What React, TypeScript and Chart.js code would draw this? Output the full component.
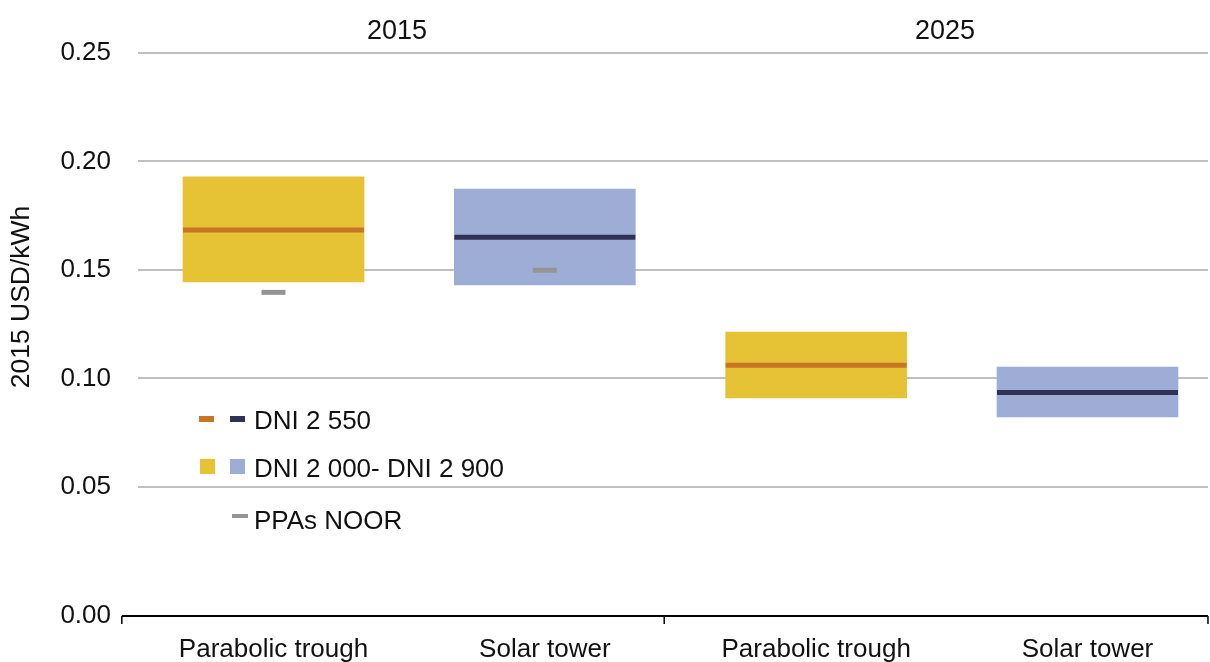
import React, { useEffect, useRef } from "react";
import { Chart, registerables } from "chart.js";

Chart.register(...registerables);

// ---- data ----
const categories = ["Parabolic trough", "Solar tower", "Parabolic trough", "Solar tower"];
const years = ["2015", "2025"];
const troughX = [0, 2];
const towerX = [1, 3];
const troughLow = [0.1445, 0.091];
const troughHigh = [0.1929, 0.1214];
const troughMid = [0.1684, 0.1061];
const towerLow = [0.1431, 0.0823];
const towerHigh = [0.1873, 0.1053];
const towerMid = [0.1651, 0.0936];
const ppaX = [0, 1];
const ppaNoor = [0.1397, 0.1499];
const yTickValues = [0.05, 0.1, 0.15, 0.2, 0.25];
const legendLabels = ["DNI 2 550", "DNI 2 000- DNI 2 900", "PPAs NOOR"];

// ---- styling ----
const W = 1210;
const H = 662;
const YELLOW = "#E6C235";
const BLUE = "#9DADD6";
const ORANGE = "#C87526";
const NAVY = "#2F3256";
const GREY = "#949494";
const GRID = "#BFBFBF";
const FONT = "'Liberation Sans', Arial, sans-serif";
const Y_MIN = -0.00945;
const X_MIN = -0.4994;
const X_MAX = 3.4441;
const groupEdges = [-0.559, 1.44, 3.444];
const yearCenters = [0.455, 2.475];

const overlayPlugin = {
  id: "overlay",
  afterDraw(chart: any) {
    const { ctx } = chart;
    const xs = chart.scales.x;
    const ys = chart.scales.y;
    const y0 = ys.getPixelForValue(Y_MIN);
    ctx.save();
    // bottom axis line
    ctx.strokeStyle = "#000";
    ctx.lineWidth = 2;
    ctx.beginPath();
    const xl = xs.getPixelForValue(groupEdges[0]);
    const xr = xs.getPixelForValue(groupEdges[groupEdges.length - 1]);
    ctx.moveTo(xl, y0);
    ctx.lineTo(xr, y0);
    ctx.stroke();
    ctx.lineWidth = 1.5;
    groupEdges.forEach((g) => {
      const px = xs.getPixelForValue(g);
      ctx.beginPath();
      ctx.moveTo(px, y0);
      ctx.lineTo(px, y0 + 8);
      ctx.stroke();
    });
    // year labels
    ctx.fillStyle = "#111";
    ctx.font = `27px ${FONT}`;
    ctx.textAlign = "center";
    ctx.textBaseline = "middle";
    years.forEach((yr, i) => {
      ctx.fillText(yr, xs.getPixelForValue(yearCenters[i]), 32);
    });
    // y axis title
    ctx.save();
    ctx.translate(22, 297);
    ctx.rotate(-Math.PI / 2);
    ctx.font = `26.5px ${FONT}`;
    ctx.fillText("2015 USD/kWh", 0, 0);
    ctx.restore();
    // legend
    ctx.font = `26px ${FONT}`;
    ctx.textAlign = "left";
    ctx.fillStyle = ORANGE;
    ctx.fillRect(199, 416, 15, 6);
    ctx.fillStyle = NAVY;
    ctx.fillRect(230, 416, 15, 6);
    ctx.fillStyle = YELLOW;
    ctx.fillRect(200, 459, 15, 15);
    ctx.fillStyle = BLUE;
    ctx.fillRect(230, 459, 15, 15);
    ctx.fillStyle = GREY;
    ctx.fillRect(232, 514, 16, 4);
    ctx.fillStyle = "#111";
    ctx.fillText(legendLabels[0], 254, 422);
    ctx.fillText(legendLabels[1], 254, 470);
    ctx.fillText(legendLabels[2], 254, 522);
    ctx.restore();
  },
};

export default function App() {
  const ref = useRef<HTMLCanvasElement>(null);
  useEffect(() => {
    if (!ref.current) return;
    const chart = new Chart(ref.current, {
      type: "bar",
      data: {
        datasets: [
          {
            type: "line",
            label: "trough median",
            data: troughX.map((x, i) => ({ x, y: troughMid[i] })),
            showLine: false,
            pointStyle: "line",
            pointRadius: 90.5,
            pointBorderWidth: 5,
            pointBorderColor: ORANGE,
            borderColor: ORANGE,
            order: 1,
          } as any,
          {
            type: "line",
            label: "tower median",
            data: towerX.map((x, i) => ({ x, y: towerMid[i] })),
            showLine: false,
            pointStyle: "line",
            pointRadius: 90.5,
            pointBorderWidth: 5,
            pointBorderColor: NAVY,
            borderColor: NAVY,
            order: 1,
          } as any,
          {
            type: "line",
            label: "PPAs NOOR",
            data: ppaX.map((x, i) => ({ x, y: ppaNoor[i] })),
            showLine: false,
            pointStyle: "line",
            pointRadius: 12,
            pointBorderWidth: 5,
            pointBorderColor: GREY,
            borderColor: GREY,
            order: 0,
          } as any,
          {
            type: "bar",
            label: "trough range",
            data: troughX.map((x, i) => ({ x, y: [troughLow[i], troughHigh[i]] })),
            backgroundColor: YELLOW,
            barThickness: 181,
            grouped: false,
            order: 2,
          } as any,
          {
            type: "bar",
            label: "tower range",
            data: towerX.map((x, i) => ({ x, y: [towerLow[i], towerHigh[i]] })),
            backgroundColor: BLUE,
            barThickness: 181,
            grouped: false,
            order: 2,
          } as any,
        ],
      },
      options: {
        animation: false,
        responsive: false,
        maintainAspectRatio: false,
        devicePixelRatio: 1,
        events: [],
        layout: { autoPadding: false, padding: { top: 53, right: 2, left: 0, bottom: 0 } },
        plugins: { legend: { display: false }, tooltip: { enabled: false } },
        scales: {
          x: {
            type: "linear",
            min: X_MIN,
            max: X_MAX,
            offset: false,
            grid: { display: false, drawTicks: false },
            border: { display: false },
            afterBuildTicks: (s: any) => {
              s.ticks = categories.map((_, i) => ({ value: i }));
            },
            afterFit: (s: any) => {
              s.height = 46;
              s.paddingLeft = 0;
              s.paddingRight = 0;
            },
            ticks: {
              padding: 18,
              color: "#111",
              font: { family: FONT, size: 26 },
              maxRotation: 0,
              autoSkip: false,
              callback: (v: any) => categories[Math.round(v)] ?? "",
            },
          },
          y: {
            min: Y_MIN,
            max: 0.25,
            grid: {
              drawTicks: false,
              lineWidth: 2,
              color: (c: any) => (c.tick && c.tick.value < 0 ? "rgba(0,0,0,0)" : GRID),
            },
            border: { display: false },
            afterBuildTicks: (s: any) => {
              s.ticks = [{ value: Y_MIN }, ...yTickValues.map((v) => ({ value: v }))];
            },
            afterFit: (s: any) => {
              s.width = 138;
              s.paddingTop = 0;
              s.paddingBottom = 0;
            },
            ticks: {
              padding: 27,
              color: "#111",
              font: { family: FONT, size: 26 },
              callback: (v: any) => (v < 0.001 ? "0.00" : Number(v).toFixed(2)),
            },
          },
        },
      },
      plugins: [overlayPlugin],
    });
    return () => chart.destroy();
  }, []);
  return (
    <div style={{ position: "absolute", left: 0, top: 0, width: W, height: H, background: "#fff" }}>
      <canvas ref={ref} width={W} height={H} style={{ width: W, height: H, display: "block" }} />
    </div>
  );
}
